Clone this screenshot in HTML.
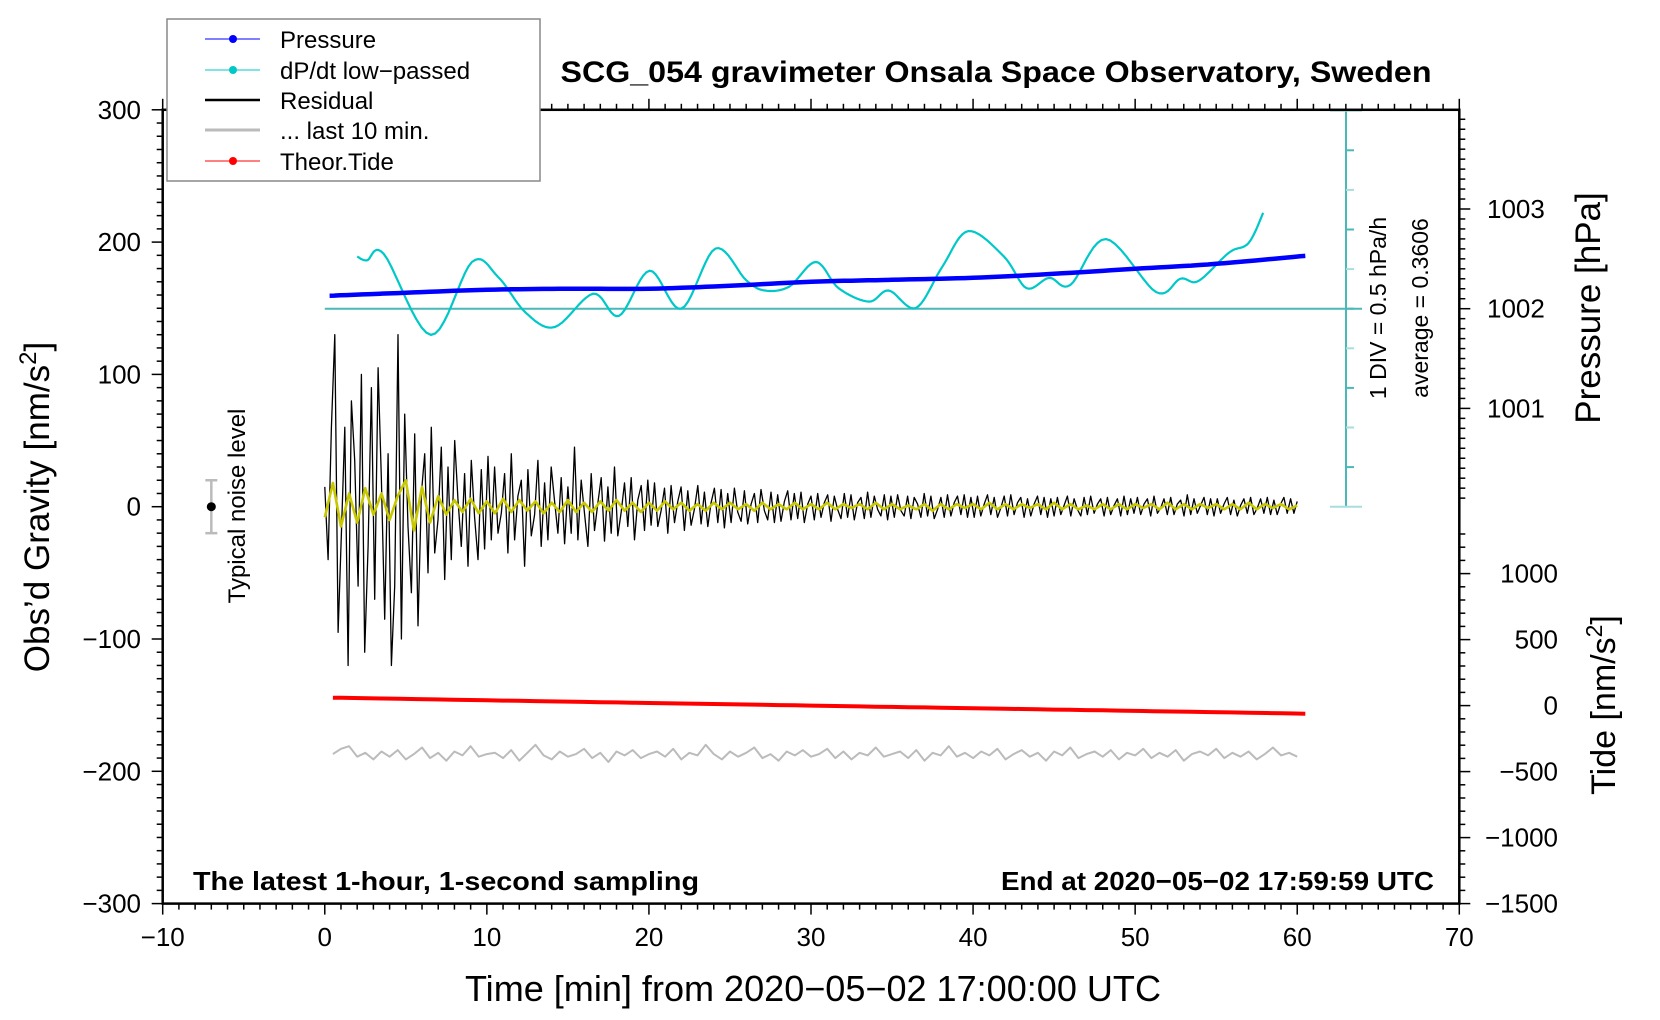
<!DOCTYPE html>
<html><head><meta charset="utf-8"><style>
html,body{margin:0;padding:0;background:#fff;}
svg{display:block;font-family:"Liberation Sans",sans-serif;}
</style></head><body>
<svg id="chart" width="1660" height="1020" viewBox="0 0 1660 1020" xmlns="http://www.w3.org/2000/svg">
<rect width="1660" height="1020" fill="#fff"/>
<g id="marks"></g>
<g id="axes"></g>
<text x="996" y="82" font-size="30" font-weight="bold" text-anchor="middle" textLength="871" lengthAdjust="spacingAndGlyphs">SCG_054 gravimeter Onsala Space Observatory, Sweden</text>
<text x="193" y="890" font-size="26" font-weight="bold" textLength="506" lengthAdjust="spacingAndGlyphs">The latest 1-hour, 1-second sampling</text>
<text x="1434" y="890" font-size="26" font-weight="bold" text-anchor="end" textLength="433" lengthAdjust="spacingAndGlyphs">End at 2020−05−02 17:59:59 UTC</text>
<text x="813" y="1001" font-size="36" text-anchor="middle" textLength="696" lengthAdjust="spacingAndGlyphs">Time [min] from 2020−05−02 17:00:00 UTC</text>
<text transform="translate(49,507) rotate(-90)" font-size="35" text-anchor="middle">Obs’d Gravity [nm/s<tspan dy="-13" font-size="24">2</tspan><tspan dy="13">]</tspan></text>
<text transform="translate(1600,308) rotate(-90)" font-size="35" text-anchor="middle">Pressure [hPa]</text>
<text transform="translate(1615,705) rotate(-90)" font-size="34" text-anchor="middle">Tide [nm/s<tspan dy="-13" font-size="23">2</tspan><tspan dy="13">]</tspan></text>
<text transform="translate(1386,308) rotate(-90)" font-size="23" text-anchor="middle">1 DIV = 0.5 hPa/h</text>
<text transform="translate(1428,308) rotate(-90)" font-size="23" text-anchor="middle">average = 0.3606</text>
<text transform="translate(245,506) rotate(-90)" font-size="24" text-anchor="middle">Typical noise level</text>
<g>
<rect x="167" y="19" width="373" height="162" fill="#fff" stroke="#888" stroke-width="1.5"/>
<line x1="205" y1="39" x2="260" y2="39" stroke="#0000ff" stroke-width="1"/><circle cx="233" cy="39" r="4" fill="#0000ff"/>
<text x="280" y="48" font-size="24">Pressure</text>
<line x1="205" y1="70" x2="260" y2="70" stroke="#00c8c8" stroke-width="1"/><circle cx="233" cy="70" r="4" fill="#00c8c8"/>
<text x="280" y="79" font-size="24">dP/dt low−passed</text>
<line x1="205" y1="100" x2="260" y2="100" stroke="#000" stroke-width="2.5"/>
<text x="280" y="109" font-size="24">Residual</text>
<line x1="205" y1="130" x2="260" y2="130" stroke="#bbb" stroke-width="3"/>
<text x="280" y="139" font-size="24">... last 10 min.</text>
<line x1="205" y1="161" x2="260" y2="161" stroke="#ff0000" stroke-width="1"/><circle cx="233" cy="161" r="4" fill="#ff0000"/>
<text x="280" y="170" font-size="24">Theor.Tide</text>
</g>
</svg>
<script>
const xTicks=[-10,0,10,20,30,40,50,60,70];
const yTicks=[300,200,100,0,-100,-200,-300];
const pTicks=[1001,1002,1003];
const tideTicks=[1000,500,0,-500,-1000,-1500];
const pressTimes=[0.3,5,10,15,20,25,30,35,40,45,50,55,60.5];
const pressVals=[1002.13,1002.16,1002.19,1002.20,1002.20,1002.23,1002.27,1002.29,1002.31,1002.35,1002.40,1002.45,1002.53];
const dpTimes=[2.0,2.6,3.65,6.55,9.08,10.7,12.4,14.2,16.56,18.15,20.04,22.0,24.1,26.0,27.15,28.66,30.3,31.7,33.57,34.8,36.47,38.1,39.7,41.9,43.3,44.7,46.0,48.2,51.3,52.8,53.9,55.8,57.0,57.9];
const dpVals=[1.02,0.97,1.05,0.03,0.95,0.76,0.31,0.13,0.55,0.27,0.84,0.36,1.12,0.72,0.59,0.64,0.95,0.62,0.45,0.59,0.37,0.89,1.34,1.02,0.62,0.75,0.66,1.24,0.57,0.74,0.71,1.07,1.19,1.57];
const dpAverage=0.3606;
const residual=[15,-40,60,130,-95,-20,60,-120,80,35,-60,100,-110,-30,90,-70,105,20,-85,40,-120,-60,130,-100,70,-15,-65,
55,-90,10,40,-50,60,-35,-10,45,-55,30,-40,50,5,-30,25,-45,35,-8,-40,28,-32,38,-25,
30,-20,-5,25,-35,40,-25,8,20,-45,28,-22,-6,35,-30,18,-25,30,4,-20,22,-28,15,-20,
45,-25,20,-5,-30,25,-18,3,22,-26,15,-20,30,-22,-4,18,-15,22,-25,5,16,-18,20,-14,
18,-15,-3,14,-20,16,-12,4,15,-18,12,-14,-2,16,-13,11,-15,3,14,-12,13,-16,10,-12,
14,-4,-11,12,-13,2,10,-12,13,-3,-10,11,-12,9,-11,4,12,-10,10,-9,11,-12,2,8,-10,
10,-8,3,9,-11,8,-2,-9,10,-8,9,-10,3,7,-9,11,-8,8,-2,-7,9,-10,8,-8,
9,-3,-7,8,-9,7,2,-8,10,-7,8,-9,-2,7,-8,9,-7,3,8,-6,9,-8,7,-8,
8,-7,2,9,-6,7,-8,-1,8,-7,9,-6,3,7,-8,6,-7,2,8,-6,7,-8,6,-7,
7,-6,1,8,-7,6,-2,-7,7,-6,8,-5,2,6,-7,7,-6,1,6,-7,8,-6,6,-5,
7,-6,2,6,-7,8,-5,-1,6,-6,7,-6,2,5,-7,9,-6,6,-5,1,7,-6,6,-7,
6,-5,2,7,-6,5,-7,1,6,-5,7,-6,-1,6,-5,7,-6,5,-6,2,7,-5,6,-5,4];
const filtered=[-8,18,-15,10,-12,14,-6,10,-10,8,
20,-18,15,-12,8,-6,5,-4,6,-5,
4,-5,6,-4,5,-3,4,-5,3,-4,
5,-4,3,-4,4,-3,5,-3,3,-4,
3,-3,4,-2,3,-3,2,-3,3,-2,3,-2,2,-3,3,-2,2,-2,3,-2,
2,-2,3,-2,2,-1,2,-2,3,-2,2,-2,1,-2,2,-3,2,-2,2,-1,
2,-2,3,-2,2,-2,2,-1,2,-2,3,-2,2,-2,1,-2,2,-2,2,-2,
2,-1,2,-2,3,-2,2,-2,2,-1,2,-2,2,-2,3,-2,2,-1,2,-2,1];
const last10=[-187,-183,-181,-189,-186,-191,-185,-189,-184,-191,-187,-182,-190,-186,-192,-185,-188,-181,-189,-187,
-186,-190,-184,-192,-186,-180,-188,-191,-185,-189,-187,-183,-190,-186,-193,-185,-188,-184,-190,-187,
-185,-189,-183,-191,-186,-188,-180,-187,-191,-185,-189,-186,-182,-190,-187,-192,-185,-188,-184,-189,
-187,-183,-190,-185,-191,-186,-188,-182,-189,-187,-185,-190,-184,-192,-186,-188,-181,-189,-186,-190,
-185,-188,-183,-191,-187,-184,-189,-186,-192,-185,-188,-182,-190,-187,-185,-189,-184,-191,-186,-188,
-183,-190,-186,-189,-184,-192,-187,-185,-188,-183,-190,-186,-189,-185,-191,-187,-182,-188,-186,-189];
const tideTimes=[0.5,10,20,30,40,50,60.5];
const tideVals=[60,40,20,0,-20,-40,-61];

const L=162.7,R=1459.3,T=109.8,B=903.6;
const xS=t=>L+(t+10)*(R-L)/80;
const yS=v=>506.7-v*(B-T)/600;
const pS=p=>308.7-(p-1002)*99.7;
const tS=v=>705.6-v*0.132;
const dS=v=>308.7-(v-dpAverage)*79.2;
const NS='http://www.w3.org/2000/svg';
const marks=document.getElementById('marks'),axes=document.getElementById('axes');
function mk(tag,attrs,parent){const e=document.createElementNS(NS,tag);for(const k in attrs)e.setAttribute(k,attrs[k]);parent.appendChild(e);return e;}
function poly(pts,stroke,w,name){const e=mk('polyline',{points:pts.map(p=>p[0].toFixed(1)+','+p[1].toFixed(1)).join(' '),fill:'none',stroke:stroke,'stroke-width':w,'stroke-linejoin':'round'},marks);

return e;}
function smooth(xs,ys){const out=[];for(let i=0;i<xs.length-1;i++){const p0=[xs[Math.max(i-1,0)],ys[Math.max(i-1,0)]],p1=[xs[i],ys[i]],p2=[xs[i+1],ys[i+1]],p3=[xs[Math.min(i+2,xs.length-1)],ys[Math.min(i+2,xs.length-1)]];
for(let s=0;s<10;s++){const u=s/10,u2=u*u,u3=u2*u;const f=(a,b,c,d)=>0.5*(2*b+(-a+c)*u+(2*a-5*b+4*c-d)*u2+(-a+3*b-3*c+d)*u3);out.push([f(p0[0],p1[0],p2[0],p3[0]),f(p0[1],p1[1],p2[1],p3[1])]);}}
out.push([xs[xs.length-1],ys[ys.length-1]]);return out;}

const dAx=1346;
const dl=mk('line',{x1:dAx,y1:dS(dpAverage+2.5),x2:dAx,y2:dS(dpAverage-2.5),stroke:'#4bb8b8','stroke-width':2},marks);

for(let i=-5;i<=5;i++){const y=dS(dpAverage+i*0.5);const cap=(i===5||i===-5);
const tk=mk('line',{x1:cap?1330:dAx,y1:y,x2:cap?1362:1354,y2:y,stroke:(i%2===0)?'#4bb8b8':'#a8dede','stroke-width':2},marks);
}
const bl=mk('line',{x1:xS(0),y1:dS(dpAverage),x2:1362,y2:dS(dpAverage),stroke:'#4bb8b8','stroke-width':2},marks);


poly(smooth(dpTimes.map(xS),dpVals.map(dS)),'#00c8c8',2.2,'dpdt-line');
poly(smooth(pressTimes.map(xS),pressVals.map(pS)),'#0000ff',4.5,'pressure-line');
poly(smooth(tideTimes.map(xS),tideVals.map(tS)),'#ff0000',4,'tide-line');
poly(last10.map((v,i)=>[xS(0.5+i*59.5/(last10.length-1)),yS(v)]),'#bbbbbb',2,'last10-line');
poly(residual.map((v,i)=>[xS(i*60/(residual.length-1)),yS(v)]),'#000',1.3,'residual-line');
poly(filtered.map((v,i)=>[xS(i*60/(filtered.length-1)),yS(v)]),'#c8c800',2.6,'filtered-residual-line');

const nx=xS(-7);
[['noise-bar',nx,yS(20),nx,yS(-20)],['noise-cap-top',nx-6,yS(20),nx+6,yS(20)],['noise-cap-bottom',nx-6,yS(-20),nx+6,yS(-20)]].forEach(a=>{const e=mk('line',{x1:a[1],y1:a[2],x2:a[3],y2:a[4],stroke:'#bbb','stroke-width':2.5},marks);
});
const nd=mk('circle',{cx:nx,cy:yS(0),r:4.5,fill:'#000'},marks);


const fr=mk('rect',{x:L,y:T,width:R-L,height:B-T,fill:'none',stroke:'#000','stroke-width':2.5},axes);

function tick(x1,y1,x2,y2,name){const e=mk('line',{x1,y1,x2,y2,stroke:'#000','stroke-width':1.5},axes);
}
function label(x,y,txt,anchor,name,size){const e=mk('text',{x,y,'font-size':size||26,'text-anchor':anchor},axes);e.textContent=txt;
}
const fmt=v=>String(v).replace('-','−');
for(let t=-10;t<=70;t++){const x=xS(t),mj=(t%10===0);tick(x,B,x,B+(mj?11:6),'x-tick');tick(x,T,x,T-(mj?11:6),'x-tick-top');}
xTicks.forEach(t=>label(xS(t),946,fmt(t),'middle','x-tick-label'));
for(let v=-300;v<=300;v+=10){const y=yS(v),mj=(v%100===0);tick(L,y,L-(mj?11:6),y,'y-tick');}
yTicks.forEach(v=>label(141,yS(v)+9,fmt(v),'end','y-tick-label'));
for(let p=1000.1;p<=1004.0;p+=0.1){const y=pS(p);if(y<T+2)continue;const mj=Math.abs(p-Math.round(p))<0.01;tick(R,y,R+(mj?11:6),y,'pressure-tick');}
pTicks.forEach(p=>label(1487,pS(p)+9,String(p),'start','pressure-tick-label'));
for(let v=-1500;v<=1300;v+=100){const y=tS(v);if(y<518)continue;const mj=(v%500===0);tick(R,y,R+(mj?11:6),y,'tide-tick');}
tideTicks.forEach(v=>label(1558,tS(v)+9,fmt(v),'end','tide-tick-label'));
</script>
</body></html>
